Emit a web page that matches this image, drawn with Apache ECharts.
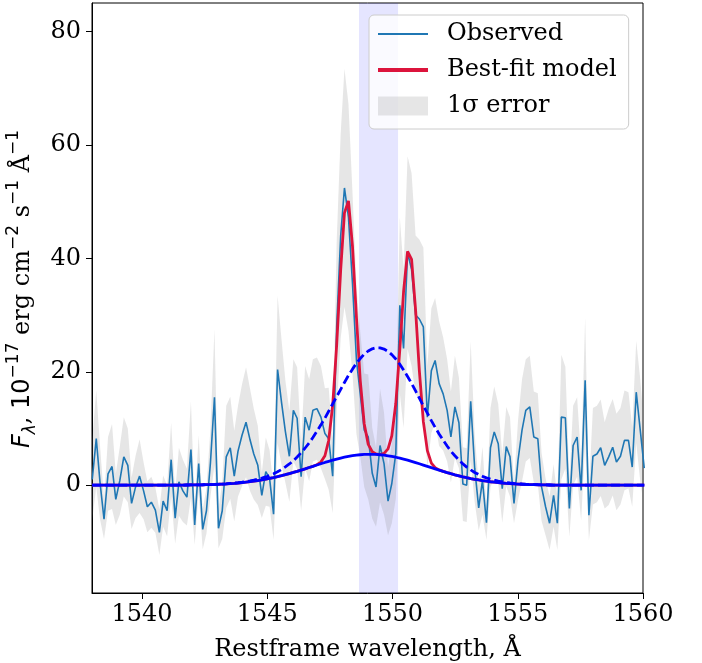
<!DOCTYPE html>
<html><head><meta charset="utf-8">
<script src="https://cdn.jsdelivr.net/npm/echarts@6/dist/echarts.min.js"></script>
<style>html,body{margin:0;padding:0;background:#fff}#chart{width:702px;height:663px}</style>
</head><body><div id="chart"></div>
<script>
const wavelength = [
1538.01,1538.17,1538.32,1538.48,1538.64,1538.80,1538.95,1539.11,1539.27,1539.43,
1539.58,1539.74,1539.90,1540.06,1540.21,1540.37,1540.53,1540.69,1540.84,1541.00,
1541.16,1541.32,1541.47,1541.63,1541.79,1541.95,1542.10,1542.26,1542.42,1542.57,
1542.73,1542.89,1543.05,1543.20,1543.36,1543.52,1543.68,1543.83,1543.99,1544.15,
1544.31,1544.46,1544.62,1544.78,1544.94,1545.09,1545.25,1545.41,1545.57,1545.72,
1545.88,1546.04,1546.19,1546.35,1546.51,1546.67,1546.82,1546.98,1547.14,1547.30,
1547.45,1547.61,1547.77,1547.93,1548.08,1548.24,1548.40,1548.56,1548.71,1548.87,
1549.03,1549.19,1549.34,1549.50,1549.66,1549.82,1549.97,1550.13,1550.29,1550.44,
1550.60,1550.76,1550.92,1551.07,1551.23,1551.39,1551.55,1551.70,1551.86,1552.02,
1552.18,1552.33,1552.49,1552.65,1552.81,1552.96,1553.12,1553.28,1553.44,1553.59,
1553.75,1553.91,1554.06,1554.22,1554.38,1554.54,1554.69,1554.85,1555.01,1555.17,
1555.32,1555.48,1555.64,1555.80,1555.95,1556.11,1556.27,1556.43,1556.58,1556.74,
1556.90,1557.06,1557.21,1557.37,1557.53,1557.69,1557.84,1558.00,1558.16,1558.31,
1558.47,1558.63,1558.79,1558.94,1559.10,1559.26,1559.42,1559.57,1559.73,1559.89,
1560.05];

const observed = [
1.0,8.2,0.5,-6.0,2.0,3.3,-2.5,0.8,5.0,3.5,
-3.2,-0.3,1.6,-1.0,-3.8,-3.0,-4.4,-8.3,-2.8,-4.5,
4.5,-5.8,0.6,-1.0,-2.1,6.3,-7.0,3.8,-7.8,-4.5,
4.0,15.5,-7.6,-4.5,5.0,6.6,1.6,6.0,8.8,11.1,
8.0,5.5,3.5,-1.8,2.4,1.2,-5.1,20.4,14.5,9.5,
5.1,13.2,11.8,1.5,12.0,9.7,13.2,13.5,12.0,9.1,
8.2,1.6,28.0,44.0,52.4,47.2,35.6,22.0,16.1,9.7,
8.5,2.1,-0.3,7.0,3.8,-2.8,0.3,5.6,31.7,24.1,
41.0,38.0,30.0,29.3,27.9,12.0,20.2,22.0,17.9,16.1,
13.2,8.5,13.8,11.0,0.2,0.0,14.8,3.0,-4.0,0.8,
-6.6,6.6,9.4,7.3,-0.6,6.8,5.0,-3.2,4.4,9.7,
13.2,13.8,8.5,8.2,-0.3,-3.8,-6.7,-1.8,-6.7,12.0,
11.9,-4.1,7.0,8.5,-0.9,18.5,-5.3,5.1,5.5,6.6,
3.5,5.0,6.7,4.1,5.1,7.9,7.9,3.2,16.4,9.7,
3.0];

const sigma = [
7,8.5,6.5,3.5,6.5,7.5,4.5,6,7,6.5,
4.5,5.5,6.5,5,4.5,4.5,4,4,4.5,4.5,
6.5,4.5,6,5.5,5,8.5,3.5,5,3.5,4,
6,12,3.5,5,9,9,8,8,9,9.7,
9,8,7,4,6,5,4.5,13,11,9,
8,9,9,6,9,9,9,9,9,8,
9,6.5,15,18,21,20,16,13,11,10,
11,8,7,10,9,6,7,8,15.5,14,
17,17,14,14,14,9,11,11,11,10,
9,8,9,8,6.5,6.5,10.5,6,4,6,
3,7,8,7,6,7,7,3.5,7,9,
9,9,8,8,6,5,4.7,5.5,4.7,11,
9,5,7,7,5.3,11,4.4,8.5,8.5,8.5,
7.6,8.5,8.5,8.5,8.5,8.8,8.5,7,9,9,
7];

const bestFit = [
0,0,0,0,0,0,0,0,0,0,
0,0,0,0,0,0,0,0,0,0,
0.01,0.02,0.02,0.03,0.04,0.05,0.06,0.07,0.08,0.10,
0.12,0.14,0.17,0.20,0.24,0.29,0.34,0.39,0.46,0.54,
0.62,0.71,0.82,0.93,1.06,1.19,1.34,1.50,1.68,1.85,
2.05,2.25,2.45,2.67,2.89,3.12,3.33,3.61,4.08,5.20,
7.88,14.09,24.76,38.00,48.00,50.10,42.20,29.50,18.50,10.80,
7.20,5.90,5.50,5.40,5.60,6.40,8.70,14.40,23.90,34.10,
41.20,39.80,30.90,20.20,11.20,6.10,3.90,3.10,2.70,2.43,
2.22,2.03,1.84,1.66,1.48,1.33,1.18,1.05,0.92,0.81,
0.71,0.61,0.53,0.46,0.39,0.33,0.28,0.24,0.20,0.17,
0.14,0.12,0.10,0.08,0.07,0.05,0.04,0.03,0.03,0.02,
0.02,0.01,0,0,0,0,0,0,0,0,
0,0,0,0,0,0,0,0,0,0,
0];

const broadComponent = [
0,0,0,0,0,0,0,0,0,0,
0,0,0,0,0,0,0,0,0,0,
0.01,0.02,0.02,0.03,0.04,0.05,0.06,0.07,0.08,0.10,
0.12,0.14,0.17,0.20,0.25,0.31,0.37,0.44,0.53,0.63,
0.75,0.89,1.05,1.24,1.46,1.72,2.01,2.36,2.77,3.22,
3.74,4.32,4.97,5.73,6.56,7.45,8.41,9.50,10.64,11.83,
13.03,14.35,15.62,16.90,18.11,19.35,20.46,21.50,22.33,23.10,
23.66,24.05,24.22,24.22,24.00,23.60,23.02,22.25,21.33,20.30,
19.17,17.95,16.62,15.35,14.00,12.70,11.38,10.20,9.03,7.95,
6.91,6.00,5.19,4.45,3.76,3.20,2.70,2.25,1.88,1.56,
1.30,1.07,0.88,0.72,0.59,0.48,0.39,0.32,0.26,0.21,
0.17,0.14,0.11,0.09,0.07,0.05,0.04,0.03,0.03,0.02,
0.02,0.01,0,0,0,0,0,0,0,0,
0,0,0,0,0,0,0,0,0,0,
0];

const baseComponent = [
0,0,0,0,0,0,0,0,0,0,
0,0,0,0,0,0,0,0,0,0,
0.01,0.02,0.02,0.03,0.04,0.05,0.06,0.07,0.08,0.10,
0.12,0.14,0.17,0.20,0.24,0.29,0.34,0.39,0.46,0.54,
0.62,0.71,0.82,0.93,1.06,1.19,1.34,1.50,1.68,1.85,
2.05,2.25,2.45,2.67,2.89,3.12,3.33,3.56,3.79,4.01,
4.21,4.42,4.61,4.79,4.94,5.08,5.20,5.30,5.37,5.42,
5.45,5.45,5.42,5.37,5.29,5.19,5.07,4.93,4.77,4.60,
4.41,4.20,3.99,3.78,3.55,3.32,3.09,2.88,2.65,2.43,
2.22,2.03,1.84,1.66,1.48,1.33,1.18,1.05,0.92,0.81,
0.71,0.61,0.53,0.46,0.39,0.33,0.28,0.24,0.20,0.17,
0.14,0.12,0.10,0.08,0.07,0.05,0.04,0.03,0.03,0.02,
0.02,0.01,0,0,0,0,0,0,0,0,
0,0,0,0,0,0,0,0,0,0,
0];

const xTicks = [1540, 1545, 1550, 1555, 1560];
const yTicks = [0, 20, 40, 60, 80];
const shadedRange = [1548.66, 1550.22];
const xRange = [1538, 1560];
const yRange = [-19, 85];

const SERIF = 'DejaVu Serif';
const SANS = 'DejaVu Sans';
const FS = 24;
const BAND = 'rgba(128,128,128,0.2)';

const pairs = arr => wavelength.map((w, i) => [w, arr[i]]);

function renderBand(params, api) {
  const pts = [];
  for (let i = 0; i < wavelength.length; i++) pts.push(api.coord([wavelength[i], observed[i] + sigma[i]]));
  for (let i = wavelength.length - 1; i >= 0; i--) pts.push(api.coord([wavelength[i], observed[i] - sigma[i]]));
  const cs = params.coordSys;
  return {
    type: 'polygon', shape: {points: pts}, style: {fill: BAND, stroke: null},
    clipPath: {type: 'rect', shape: {x: cs.x, y: cs.y, width: cs.width, height: cs.height}}
  };
}

const chart = echarts.init(document.getElementById('chart'), null, {renderer: 'canvas'});
const option = {
  animation: false,
  backgroundColor: '#fff',
  grid: {left: 92, right: 59, top: 3, bottom: 70, containLabel: false, outerBoundsMode: 'none',
         show: true, borderColor: '#000', borderWidth: 1, backgroundColor: 'transparent'},
  legend: {
    orient: 'vertical', left: 369, top: 15,
    itemWidth: 50, itemHeight: 19, itemGap: 10,
    padding: [6, 12, 10, 9],
    backgroundColor: 'rgba(255,255,255,0.8)', borderColor: '#cccccc', borderWidth: 1, borderRadius: 5,
    selectedMode: false,
    textStyle: {fontFamily: SERIF, fontSize: FS, color: '#000', lineHeight: 26, padding: [0, 0, 0, 14]},
    data: [
      {name: 'Observed', icon: 'path://M0,0L50,0L50,2L0,2Z'},
      {name: 'Best-fit model', icon: 'path://M0,0L50,0L50,4L0,4Z'},
      {name: '1σ error', icon: 'rect', itemStyle: {color: BAND}}
    ]
  },
  xAxis: {
    type: 'value', min: xRange[0], max: xRange[1],
    axisLine: {show: true, onZero: false, lineStyle: {color: '#000', width: 1}},
    axisTick: {show: true, length: 6, inside: false, lineStyle: {color: '#000', width: 1}, customValues: xTicks},
    axisLabel: {fontFamily: SERIF, fontSize: FS, color: '#000', margin: 10, customValues: xTicks, formatter: v => String(v)},
    splitLine: {show: false},
    name: 'Restframe wavelength, Å', nameLocation: 'middle', nameGap: 45,
    nameTextStyle: {fontFamily: SERIF, fontSize: FS, color: '#000'}
  },
  yAxis: {
    type: 'value', min: yRange[0], max: yRange[1],
    axisLine: {show: true, onZero: false, lineStyle: {color: '#000', width: 1}},
    axisTick: {show: true, length: 6, inside: false, lineStyle: {color: '#000', width: 1}, customValues: yTicks},
    axisLabel: {fontFamily: SERIF, fontSize: FS, color: '#000', margin: 11, customValues: yTicks, formatter: v => String(v)},
    splitLine: {show: false},
    name: '{it|F}{sub|λ}{t|, }{m|10}{sup|−17}{t| erg cm}{sup|−2}{t| s}{sup|−1}{t| Å}{sup|−1}',
    nameLocation: 'middle', nameRotate: 90, nameGap: 46,
    nameTextStyle: {
      color: '#000', padding: [0, 0, 0, 18],
      rich: {
        it: {fontFamily: SANS, fontStyle: 'italic', fontSize: FS, lineHeight: 34, color: '#000'},
        sub: {fontFamily: SANS, fontStyle: 'italic', fontSize: 17, lineHeight: 18, verticalAlign: 'bottom', color: '#000'},
        t: {fontFamily: SERIF, fontSize: FS, lineHeight: 34, color: '#000'},
        m: {fontFamily: SANS, fontSize: FS, lineHeight: 34, color: '#000'},
        sup: {fontFamily: SANS, fontSize: 17, lineHeight: 18, verticalAlign: 'top', color: '#000'}
      }
    }
  },
  series: [
    {
      name: '1σ error', type: 'custom', coordinateSystem: 'cartesian2d',
      data: [[wavelength[0], observed[0]]], encode: {x: 0, y: 1},
      itemStyle: {color: BAND}, renderItem: renderBand, z: 1, silent: true
    },
    {
      name: 'shade', type: 'line', data: pairs(observed), symbol: 'none',
      lineStyle: {opacity: 0}, z: 1, silent: true,
      markArea: {silent: true, itemStyle: {color: 'rgba(0,0,255,0.1)'}, data: [[{xAxis: shadedRange[0]}, {xAxis: shadedRange[1]}]]}
    },
    {
      name: 'Observed', type: 'line', data: pairs(observed), symbol: 'none', color: '#1f77b4',
      itemStyle: {color: '#1f77b4'}, lineStyle: {color: '#1f77b4', width: 1.6}, z: 2, silent: true
    },
    {
      name: 'Best-fit model', type: 'line', data: pairs(bestFit), symbol: 'none', color: '#dc143c',
      itemStyle: {color: '#dc143c'}, lineStyle: {color: '#dc143c', width: 2.8}, z: 3, silent: true
    },
    {
      name: 'broad', type: 'line', data: pairs(broadComponent), symbol: 'none', color: '#0000ff',
      lineStyle: {color: '#0000ff', width: 2.8, type: [9, 4]}, z: 4, silent: true
    },
    {
      name: 'base', type: 'line', data: pairs(baseComponent), symbol: 'none', color: '#0000ff',
      lineStyle: {color: '#0000ff', width: 2.8}, z: 5, silent: true
    }
  ]
};
chart.setOption(option);
</script>
</body></html>
